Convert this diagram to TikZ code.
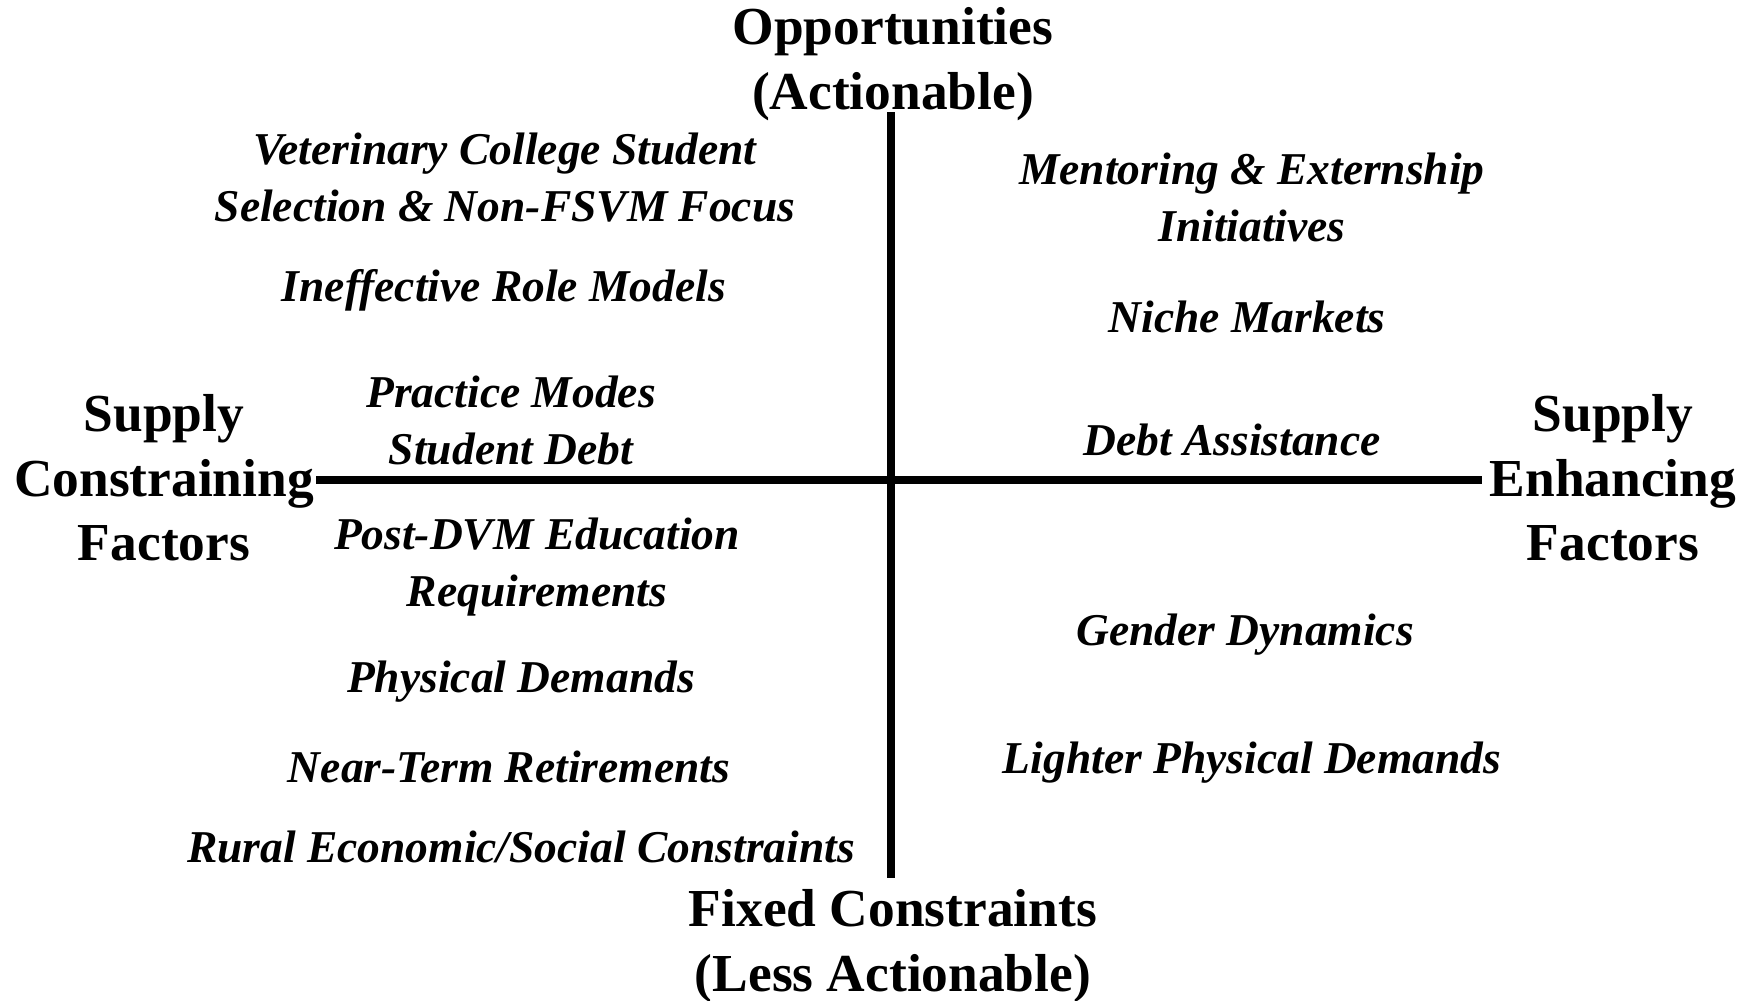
\documentclass[tikz,border=0pt]{standalone}
\usepackage{fontspec}
\setmainfont{Liberation Serif}
\usetikzlibrary{positioning}
\tikzset{
    %Define style for the axis titles
    axistitle/.style={
           font=\fontsize{15.2}{18.4}\selectfont\bfseries,
           align=center,
           inner sep=0pt},
    %Define style for the factors
    factor/.style={
           font=\fontsize{12.95}{16.2}\selectfont\bfseries\itshape,
           align=center,
           inner sep=0pt},
    %Define style for the axes
    axis/.style={
           line width=2.2pt,
           draw=black}
}
\begin{document}
\begin{tikzpicture}[x=0.1mm,y=-0.1mm]
\useasboundingbox (0,0) rectangle (1750,1000);
 %axes
\coordinate (top) at (891,112);
\coordinate (bottom) at (891,878);
\coordinate (left) at (316,480);
\coordinate (right) at (1482,480);
\draw[axis] (top) -- (bottom);
\draw[axis] (left) -- (right);
 %titles
\node[axistitle] (opp) at (893,64) {Opportunities\\(Actionable)};
\node[axistitle] (fixed) at (893,946) {Fixed Constraints\\(Less Actionable)};
\node[axistitle] (constr) at (164,478) {Supply\\Constraining\\Factors};
\node[axistitle] (enh) at (1613,478) {Supply\\Enhancing\\Factors};
 %constraining factors
\node[factor] (vet) at (505,178) {Veterinary College Student\\Selection \& Non-FSVM Focus};
\node[factor] (ineff) at (504,290) {Ineffective Role Models};
\node[factor] (practice) at (511,420) {Practice Modes\\Student Debt};
\node[factor] (postdvm) at (537,567) {Post-DVM Education\\Requirements};
\node[factor] (phys) at (521,682) {Physical Demands};
\node[factor] (near) at (509,767) {Near-Term Retirements};
\node[factor] (rural) at (521,847) {Rural Economic/Social Constraints};
 %enhancing factors
\node[factor] (mentor) at (1252,197) {Mentoring \& Externship\\Initiatives};
\node[factor] (niche) at (1247,317) {Niche Markets};
\node[factor] (debt) at (1232,440) {Debt Assistance};
\node[factor] (gender) at (1245,635) {Gender Dynamics};
\node[factor] (lighter) at (1252,763) {Lighter Physical Demands};
\end{tikzpicture}
\end{document}
